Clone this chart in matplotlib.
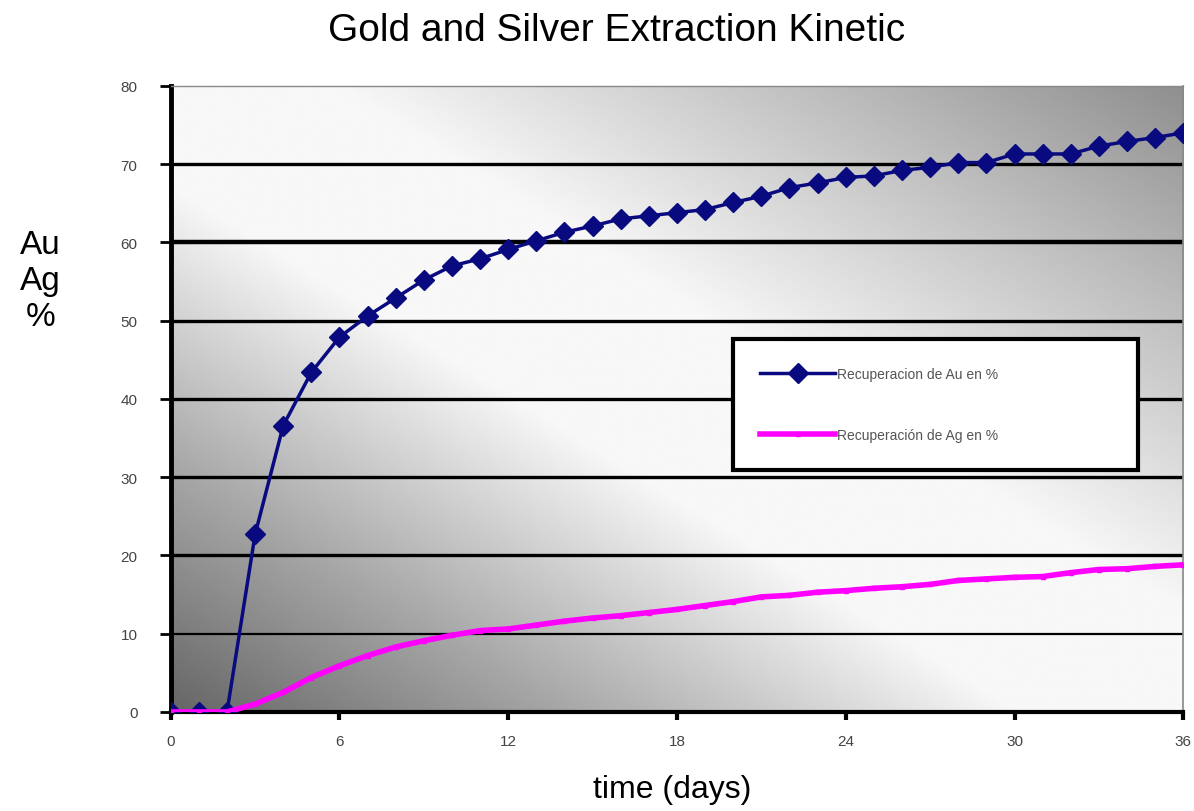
import matplotlib.pyplot as plt
import numpy as np

# data
days = list(range(0, 37))
au_recovery = [0, 0, 0, 22.7, 36.6, 43.4, 47.9, 50.6, 52.9, 55.2,
               57.0, 57.9, 59.1, 60.2, 61.3, 62.1, 63.0, 63.4, 63.8, 64.2,
               65.1, 65.9, 67.0, 67.6, 68.3, 68.5, 69.2, 69.6, 70.2, 70.2,
               71.3, 71.3, 71.3, 72.3, 72.9, 73.4, 74.0]
ag_recovery = [0, 0, 0, 1.0, 2.5, 4.4, 5.9, 7.2, 8.3, 9.1,
               9.8, 10.4, 10.6, 11.1, 11.6, 12.0, 12.3, 12.7, 13.1, 13.6,
               14.1, 14.7, 14.9, 15.3, 15.5, 15.8, 16.0, 16.3, 16.8, 17.0,
               17.2, 17.3, 17.8, 18.2, 18.3, 18.6, 18.8]
x_ticks = [0, 6, 12, 18, 24, 30, 36]
y_ticks = [0, 10, 20, 30, 40, 50, 60, 70, 80]
labels = ["Recuperacion de Au en %", "Recuperación de Ag en %"]

plt.rcParams['font.family'] = ['Liberation Sans', 'DejaVu Sans']

fig = plt.figure(figsize=(11.94, 8.12), dpi=100)
ax = fig.add_axes([0.143, 0.122, 0.848, 0.771])

# diagonal gray-white-gray gradient in the plot area
u, v = np.meshgrid(np.linspace(0, 1, 300), np.linspace(0, 1, 300))
t = (u + v) / 2
shade = np.interp(t, [0, 0.2, 0.42, 0.58, 0.8, 1.0], [0.40, 0.66, 0.97, 0.97, 0.76, 0.56])
ax.imshow(shade, cmap='gray', vmin=0, vmax=1, origin='lower', aspect='auto',
          extent=[0, 36, 0, 80], zorder=0, interpolation='bilinear')

# horizontal grid lines
for yv in y_ticks[1:-1]:
    lw = 3.2 if yv == 60 else (1.6 if yv == 10 else 2.4)
    ax.axhline(yv, color='black', lw=lw, zorder=1)

ax.plot(days, au_recovery, color='#0a0a80', lw=2.5, marker='D', ms=10,
        label=labels[0], zorder=3)
ax.plot(days, ag_recovery, color='#ff00ff', lw=4, marker='s', ms=3,
        label=labels[1], zorder=3)

ax.set_xlim(0, 36)
ax.set_ylim(0, 80)
ax.set_xticks(x_ticks)
ax.set_yticks(y_ticks)
ax.tick_params(axis='both', labelsize=11, labelcolor='#444444', color='black')
ax.tick_params(axis='y', length=8, width=2, pad=16)
ax.tick_params(axis='x', length=6, width=3, pad=10)

ax.spines['left'].set_linewidth(3.5)
ax.spines['bottom'].set_linewidth(3)
ax.spines['top'].set_color('#888888')
ax.spines['top'].set_linewidth(1)
ax.spines['right'].set_color('#888888')
ax.spines['right'].set_linewidth(1.2)

fig.text(0.516, 0.962, "Gold and Silver Extraction Kinetic", ha='center', va='center',
         fontsize=28)
fig.text(0.034, 0.653, "Au\nAg\n%", ha='center', va='center', fontsize=24,
         linespacing=1.2)
fig.text(0.563, 0.027, "time (days)", ha='center', va='center', fontsize=23)

leg = ax.legend(loc='upper left', bbox_to_anchor=(0.555, 0.393, 0.4, 0.203),
                mode='expand', fontsize=10, frameon=True, fancybox=False,
                handlelength=5.4, handletextpad=0.1, labelspacing=3.4,
                borderpad=2.0, borderaxespad=0)
leg.get_frame().set_edgecolor('black')
leg.get_frame().set_linewidth(3)
leg.get_frame().set_facecolor('white')
leg.get_frame().set_alpha(1)
for txt in leg.get_texts():
    txt.set_color('#555555')

fig.savefig('out.png', dpi=100)
